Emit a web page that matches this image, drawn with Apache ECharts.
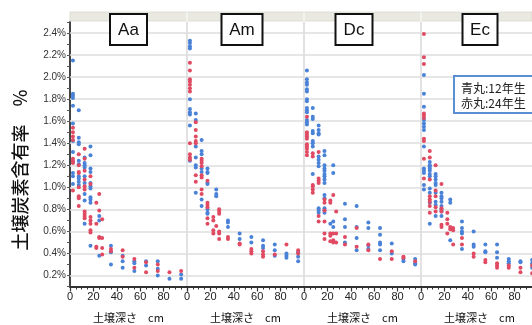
<!DOCTYPE html>
<html>
<head>
<meta charset="utf-8">
<script src="https://cdn.jsdelivr.net/npm/echarts@6/dist/echarts.min.js"></script>
<style>html,body{margin:0;padding:0;background:#fff;}#c{width:532px;height:325px;}</style>
</head>
<body>
<div id="c"></div>
<script>
// ---- data ----
const panels = ['Aa', 'Am', 'Dc', 'Ec'];
const depths = [2.5, 7.5, 12.5, 17.5, 22.5, 25, 27.5, 35, 45, 55, 65, 75, 85, 95];
const yTicks = [0.2, 0.4, 0.6, 0.8, 1.0, 1.2, 1.4, 1.6, 1.8, 2.0, 2.2, 2.4];
const xTicks = [0, 20, 40, 60, 80];
const legendLines = ['青丸:12年生', '赤丸:24年生'];
const yTitle = '土壌炭素含有率　%';
const xTitle = '土壌深さ　cm';

// blue = 12年生, red = 24年生 ; one list per depth
const aaBlue = [[2.15,1.85,1.83,1.81,1.74,1.58,1.42,1.32,1.23,1.13,1.10,1.03],[1.70,1.45,1.41,1.39,1.24,1.21,1.10,1.08,1.05,1.02],[1.27,1.22,1.20,1.18,1.10,1.04,0.94,0.88,0.67],[1.37,1.29,1.17,1.14,1.04,1.01,0.99,0.91,0.89,0.86,0.47],[],[0.74,0.70,0.38],[],[0.47,0.41,0.30],[0.38,0.33,0.27],[0.33,0.31,0.24],[0.33,0.29],[0.33,0.26,0.20],[0.17],[0.21,0.17]];
const aaRed = [[1.54,1.50,1.46,1.43,1.26,1.24,1.22,0.97],[1.30,1.20,1.14,1.13,1.00,0.92,0.90,0.83],[1.35,1.26,1.15,1.07,1.01,0.98,0.78,0.76,0.74,0.72],[1.10,1.03,0.73,0.70,0.67,0.61,0.59],[0.86,0.67,0.46,0.45],[0.94,0.79,0.55,0.54],[0.71,0.54,0.45,0.39],[0.44,0.42],[0.43,0.37],[0.35,0.27],[0.32,0.23],[0.30,0.24],[0.23],[0.24]];
const amBlue = [[2.33,2.31,2.28,2.26,1.80,1.71,1.68,1.66,1.56,1.24],[1.67,1.61,1.37,1.27,1.20,1.18,0.95],[1.43,1.33,1.30,1.17,1.14,0.89,0.83],[1.17,1.14,1.13,1.04,1.03,0.80,0.77,0.76],[],[0.98,0.94,0.92],[],[0.70,0.68,0.64],[0.58,0.53],[0.55,0.50],[0.52,0.47,0.45],[0.48,0.43,0.38],[0.40,0.38,0.36],[0.41,0.37,0.33]];
const amRed = [[2.13,2.06,1.98,1.96,1.93,1.90,1.87,1.40,1.30,1.27,1.25],[1.59,1.52,1.46,1.42,1.40,1.11,1.05],[1.26,1.24,1.22,1.19,1.11,1.09,0.98,0.94],[1.06,0.86,0.84,0.82,0.72,0.67],[0.73,0.70,0.61,0.58],[0.65],[0.80,0.78,0.76,0.60,0.58,0.53],[0.55,0.53],[0.49,0.48],[0.44,0.42,0.40],[0.42,0.39,0.37],[0.39],[0.48],[0.43,0.40]];
const dcBlue = [[2.06,1.98,1.95,1.93,1.89,1.87,1.80,1.78,1.72,1.70,1.68,1.61,1.59,1.57],[1.72,1.64,1.62,1.51,1.49,1.42,1.40,1.37,1.12],[1.56,1.52,1.49,1.48,1.28,1.25,1.22,1.19,0.81,0.79,0.77],[1.33,1.29,1.20,1.17,1.15,1.12,1.10,1.07,1.04,0.93,0.90,0.81,0.79,0.77],[0.67],[1.20,1.13,0.69,0.64],[],[0.85,0.71,0.64,0.50],[0.83,0.64,0.54,0.43],[0.68,0.63,0.47,0.44],[0.63,0.57,0.50,0.48,0.43],[0.49,0.40],[0.35,0.33],[0.35,0.31,0.30]];
const dcRed = [[1.64,1.50,1.48,1.46,1.44,1.39,1.37,1.35,1.32,1.29],[1.31,1.28,1.02,1.01,0.98,0.95],[1.32,1.08,1.06,1.04,0.74,0.69],[0.89,0.86,0.79,0.69,0.58,0.53],[0.88,0.86,0.58,0.56,0.51],[0.93,0.58,0.52,0.50],[0.78,0.58,0.50],[0.55,0.48],[0.63,0.46],[0.48,0.43],[0.35],[0.42,0.35],[0.37,0.36],[0.33]];
const ecBlue = [[2.02,1.85,1.73,1.61,1.58,1.55,1.52,1.37,1.17,1.15,1.13,1.02,0.98],[1.23,1.20,1.19,1.17,1.15,1.12,1.10,0.99,0.95,0.86,0.67],[1.12,1.10,1.07,1.04,1.02,0.95,0.87,0.84,0.74],[0.95,0.92,0.90,0.87,0.83,0.80,0.78,0.74],[],[0.89,0.86,0.52],[],[0.69,0.63,0.60,0.58,0.44],[0.60,0.48,0.46],[0.48,0.42,0.41],[0.48,0.41,0.36],[0.35,0.33,0.31],[0.33,0.32],[0.34,0.31,0.27]];
const ecRed = [[2.39,2.18,2.12,1.67,1.65,1.63,1.44,1.42,1.26,1.08],[1.33,1.27,1.07,0.92,0.89,0.87,0.83,0.77],[1.20,0.97,0.92,0.82,0.78],[1.03,0.81,0.78,0.66,0.64],[0.77,0.71,0.67,0.58],[0.64,0.62],[0.63,0.61,0.48],[0.54,0.48],[0.40,0.37],[0.34,0.32],[0.31,0.29,0.27],[0.29,0.27],[0.27,0.23],[0.29,0.22]];

const blueSets = [aaBlue, amBlue, dcBlue, ecBlue];
const redSets = [aaRed, amRed, dcRed, ecRed];

// ---- layout ----
const BLUE = '#4a82d8', RED = '#e04a62';
const P0 = 70, PW = 117, TOP = 22, H = 264.5;
const labelBoxes = [{cx:128.5,w:37},{cx:242,w:41},{cx:354,w:37},{cx:480,w:35}];

function toPts(set){
  const out = [];
  set.forEach((vals,i)=>vals.forEach(v=>out.push([depths[i], v])));
  return out;
}

const grids=[], xAxes=[], yAxes=[], series=[], graphic=[];
panels.forEach((p,i)=>{
  grids.push({left:P0+PW*i, top:TOP, width:PW, height:H, containLabel:false, outerBoundsMode:'none'});
  xAxes.push({
    type:'value', gridIndex:i, min:0, max:100, interval:20,
    name: xTitle, nameLocation:'middle', nameGap:26,
    nameTextStyle:{fontSize:11, color:'#111', fontFamily:'Noto Sans CJK JP'},
    axisLine:{show:true, onZero:false, lineStyle:{color:'#333', width:2}},
    axisTick:{show:true, length:5, lineStyle:{color:'#333', width:1.2}},
    minorTick:{show:true, splitNumber:4, length:3, lineStyle:{color:'#333', width:1}},
    axisLabel:{fontSize:11, color:'#222', margin:5, fontFamily:'Liberation Sans',
      formatter:v=> (xTicks.indexOf(v)>=0 ? String(v) : '')},
    splitLine:{show:false}
  });
  yAxes.push({
    type:'value', gridIndex:i, min:0.1, max:2.5, interval:0.1,
    axisLine:{show:true, lineStyle:{color: i===0 ? '#444' : '#d9d9d9', width: i===0 ? 2 : 1.5}},
    axisTick:{show:i===0, length:3, lineStyle:{color:'#555'}},
    axisLabel:{show:i===0, fontSize:10, color:'#333', margin:4, fontFamily:'Liberation Sans',
      formatter:v=>{const k=Math.round(v*10); return (k%2===0) ? (k/10).toFixed(1)+'%' : '';}},
    splitLine:{show:false}
  });
  series.push({
    type:'scatter', xAxisIndex:i, yAxisIndex:i, symbolSize:4,
    itemStyle:{color:BLUE, opacity:1}, data:toPts(blueSets[i]), z:3,
    markLine:{silent:true, symbol:['none','none'], label:{show:false},
      lineStyle:{color:'#dedede', width:1.5, type:'solid'}, z:1,
      data:yTicks.map(v=>({yAxis:v}))}
  });
  series.push({
    type:'scatter', xAxisIndex:i, yAxisIndex:i, symbolSize:4,
    itemStyle:{color:RED, opacity:1}, data:toPts(redSets[i]), z:4
  });
  if(i>0){
    graphic.push({type:'line', z:50, shape:{x1:P0+PW*i, y1:12, x2:P0+PW*i, y2:TOP}, style:{stroke:'#f6f6f2', lineWidth:1.5}});
  }
  const b = labelBoxes[i];
  graphic.push({type:'rect', z:60, shape:{x:b.cx-b.w/2, y:14, width:b.w, height:31},
    style:{fill:'#fff', stroke:'#111', lineWidth:2}});
  graphic.push({type:'text', z:61, x:b.cx, y:30,
    style:{text:p, fontSize:17, fontFamily:'Liberation Sans', fill:'#111', align:'center', verticalAlign:'middle'}});
});

// header strip
graphic.unshift({type:'rect', z:40, shape:{x:P0, y:12, width:532-P0, height:9},
  style:{fill:'#e9e9e1', stroke:'#d8d8cf', lineWidth:0.8}});
// y title
graphic.push({type:'text', z:61, x:20, y:170, rotation:Math.PI/2,
  style:{text:yTitle, fontSize:18, fontFamily:'Noto Sans CJK JP', fontWeight:500, fill:'#111', align:'center', verticalAlign:'middle'}});
// legend box
graphic.push({type:'rect', z:60, shape:{x:454, y:76, width:90, height:37},
  style:{fill:'#fff', stroke:'#5b8fd3', lineWidth:2}});
legendLines.forEach((t,k)=>{
  graphic.push({type:'text', z:61, x:461, y:88+k*15,
    style:{text:t, fontSize:12, fontFamily:'Noto Sans CJK JP', fill:'#222', align:'left', verticalAlign:'middle'}});
});

const chart = echarts.init(document.getElementById('c'), null, {renderer:'canvas'});
chart.setOption({
  animation:false,
  backgroundColor:'#fff',
  grid:grids, xAxis:xAxes, yAxis:yAxes, series:series, graphic:graphic
});
</script>
</body>
</html>
